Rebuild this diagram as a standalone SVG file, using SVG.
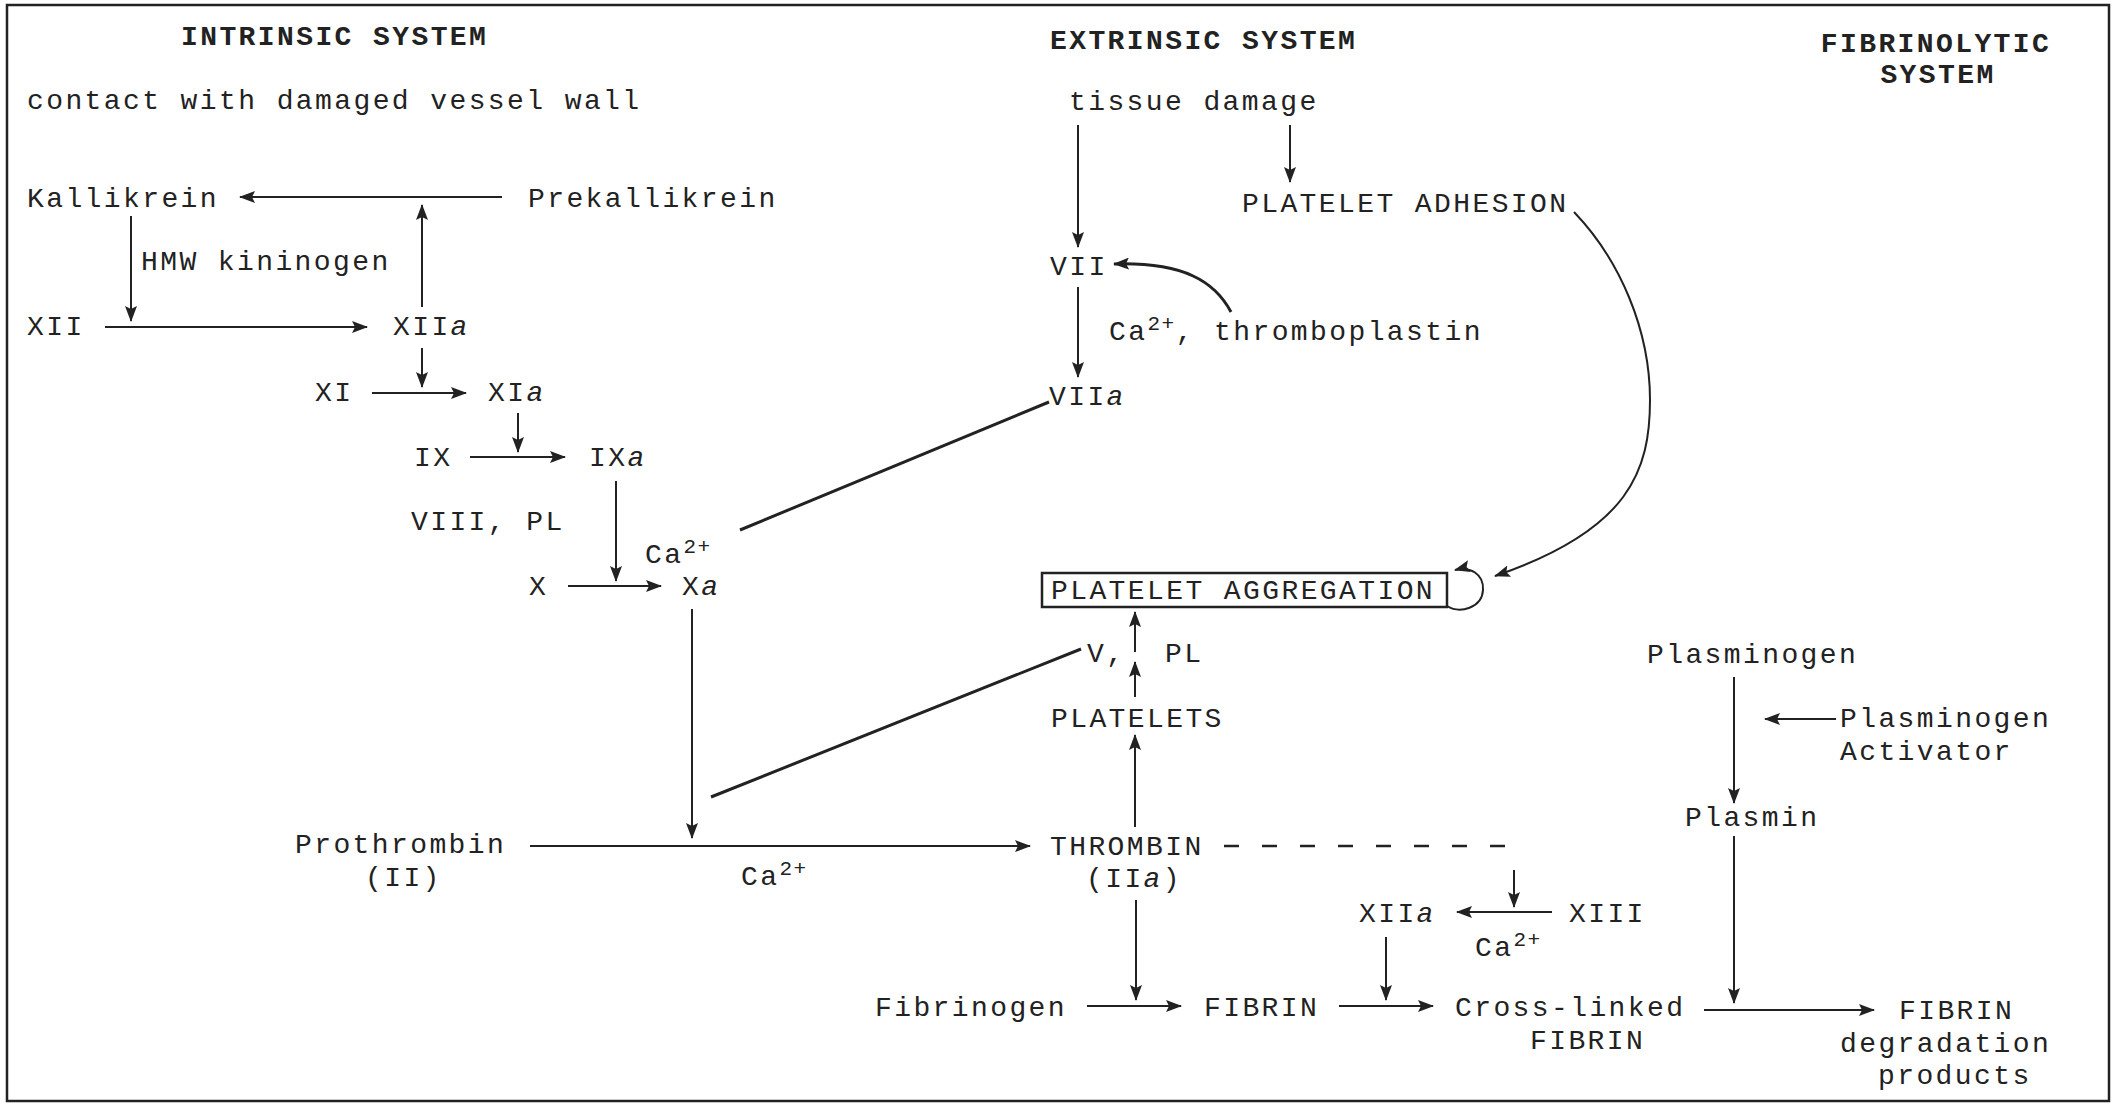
<svg xmlns="http://www.w3.org/2000/svg" width="2116" height="1105" viewBox="0 0 2116 1105">
<style>
text{font-family:"Liberation Mono","Courier New",monospace;font-size:28px;letter-spacing:2.4px;fill:#222}
.h{font-weight:bold}
.i{font-style:italic}
.sup{font-size:21px;letter-spacing:1.5px}
.c{fill:none;stroke:#222;stroke-width:2}
.cb{fill:none;stroke:#222;stroke-width:3}
.d{fill:none;stroke:#222;stroke-width:2.5;stroke-dasharray:15 23}
</style>
<defs>
<marker id="ah" markerUnits="userSpaceOnUse" markerWidth="16" markerHeight="12" refX="15" refY="6" orient="auto">
<path d="M0,0 L16,6 L0,12 L3,6 z" fill="#222"/>
</marker>
</defs>
<rect x="7" y="5" width="2102" height="1096" fill="#fff" stroke="#222" stroke-width="2.5"/>

<g id="headings">
<text class="h" x="181" y="45">INTRINSIC SYSTEM</text>
<text class="h" x="1050" y="49">EXTRINSIC SYSTEM</text>
<text class="h" x="1936" y="52" text-anchor="middle">FIBRINOLYTIC</text>
<text class="h" x="1938" y="83" text-anchor="middle">SYSTEM</text>
</g>

<g id="contact"><text x="27" y="109">contact with damaged vessel wall</text></g>
<g id="kallikrein"><text x="27" y="207">Kallikrein</text></g>
<g id="prekallikrein"><text x="528" y="207">Prekallikrein</text></g>
<g id="hmw"><text x="141" y="270">HMW kininogen</text></g>
<g id="xii"><text x="27" y="335">XII</text></g>
<g id="xiia"><text x="393" y="335">XII<tspan class="i">a</tspan></text></g>
<g id="xi"><text x="315" y="401">XI</text></g>
<g id="xia"><text x="488" y="401">XI<tspan class="i">a</tspan></text></g>
<g id="ix"><text x="414" y="466">IX</text></g>
<g id="ixa"><text x="589" y="466">IX<tspan class="i">a</tspan></text></g>
<g id="viii"><text x="411" y="530">VIII, PL</text></g>
<g id="ca1"><text x="645" y="563">Ca<tspan class="sup" dy="-10">2+</tspan></text></g>
<g id="x"><text x="529" y="595">X</text></g>
<g id="xa"><text x="682" y="595">X<tspan class="i">a</tspan></text></g>
<g id="prothrombin"><text x="295" y="853">Prothrombin</text><text x="365" y="886">(II)</text></g>
<g id="ca2"><text x="741" y="885">Ca<tspan class="sup" dy="-10">2+</tspan></text></g>

<g id="tissue"><text x="1069" y="110">tissue damage</text></g>
<g id="adhesion"><text x="1242" y="212">PLATELET ADHESION</text></g>
<g id="vii"><text x="1050" y="275">VII</text></g>
<g id="thromboplastin"><text x="1109" y="340">Ca<tspan class="sup" dy="-10">2+</tspan><tspan dy="10">, thromboplastin</tspan></text></g>
<g id="viia"><text x="1049" y="405">VII<tspan class="i">a</tspan></text></g>
<g id="aggregation"><rect x="1042" y="573" width="405" height="34" fill="none" stroke="#222" stroke-width="2.5"/><text x="1051" y="599">PLATELET AGGREGATION</text></g>
<g id="vpl"><text x="1087" y="662">V,</text><text x="1165" y="662">PL</text></g>
<g id="platelets"><text x="1051" y="727">PLATELETS</text></g>
<g id="thrombin"><text x="1050" y="855">THROMBIN</text><text x="1086" y="887">(II<tspan class="i">a</tspan>)</text></g>
<g id="xiia2"><text x="1359" y="922">XII<tspan class="i">a</tspan></text></g>
<g id="xiii"><text x="1569" y="922">XIII</text></g>
<g id="ca3"><text x="1475" y="956">Ca<tspan class="sup" dy="-10">2+</tspan></text></g>
<g id="fibrinogen"><text x="875" y="1016">Fibrinogen</text></g>
<g id="fibrin"><text x="1204" y="1016">FIBRIN</text></g>
<g id="crosslinked"><text x="1455" y="1016">Cross-linked</text><text x="1530" y="1049">FIBRIN</text></g>

<g id="plasminogen"><text x="1647" y="663">Plasminogen</text></g>
<g id="activator"><text x="1840" y="727">Plasminogen</text><text x="1840" y="760">Activator</text></g>
<g id="plasmin"><text x="1685" y="826">Plasmin</text></g>
<g id="fdp"><text x="1899" y="1019">FIBRIN</text><text x="1840" y="1052">degradation</text><text x="1878" y="1084">products</text></g>

<g id="connectors">
<line class="c" x1="502" y1="197" x2="240" y2="197" marker-end="url(#ah)"/>
<line class="c" x1="131" y1="216" x2="131" y2="321" marker-end="url(#ah)"/>
<line class="c" x1="105" y1="327" x2="367" y2="327" marker-end="url(#ah)"/>
<line class="c" x1="422" y1="307" x2="422" y2="205" marker-end="url(#ah)"/>
<line class="c" x1="422" y1="348" x2="422" y2="387" marker-end="url(#ah)"/>
<line class="c" x1="372" y1="393" x2="466" y2="393" marker-end="url(#ah)"/>
<line class="c" x1="518" y1="413" x2="518" y2="452" marker-end="url(#ah)"/>
<line class="c" x1="470" y1="457" x2="565" y2="457" marker-end="url(#ah)"/>
<line class="c" x1="616" y1="481" x2="616" y2="581" marker-end="url(#ah)"/>
<line class="c" x1="568" y1="586" x2="661" y2="586" marker-end="url(#ah)"/>
<line class="cb" x1="740" y1="530" x2="1049" y2="402"/>
<line class="c" x1="692" y1="609" x2="692" y2="838" marker-end="url(#ah)"/>
<line class="cb" x1="711" y1="797" x2="1081" y2="649"/>
<line class="c" x1="530" y1="846" x2="1030" y2="846" marker-end="url(#ah)"/>
<line class="c" x1="1078" y1="125" x2="1078" y2="247" marker-end="url(#ah)"/>
<line class="c" x1="1290" y1="125" x2="1290" y2="182" marker-end="url(#ah)"/>
<line class="c" x1="1078" y1="287" x2="1078" y2="377" marker-end="url(#ah)"/>
<path class="cb" d="M1231,312 C1215,282 1185,262 1114,264" marker-end="url(#ah)"/>
<path class="c" d="M1574,212 C1620,260 1650,330 1650,400 C1650,470 1630,530 1495,576" marker-end="url(#ah)"/>
<path class="c" d="M1447,606 C1460,614 1482,608 1483,590 C1484,574 1470,566 1455,570" marker-end="url(#ah)"/>
<line class="c" x1="1135" y1="652" x2="1135" y2="612" marker-end="url(#ah)"/>
<line class="c" x1="1135" y1="697" x2="1135" y2="662" marker-end="url(#ah)"/>
<line class="c" x1="1135" y1="827" x2="1135" y2="735" marker-end="url(#ah)"/>
<line class="d" x1="1224" y1="846" x2="1510" y2="846"/>
<line class="c" x1="1514" y1="870" x2="1514" y2="907" marker-end="url(#ah)"/>
<line class="c" x1="1552" y1="912" x2="1457" y2="912" marker-end="url(#ah)"/>
<line class="c" x1="1136" y1="900" x2="1136" y2="1000" marker-end="url(#ah)"/>
<line class="c" x1="1087" y1="1006" x2="1181" y2="1006" marker-end="url(#ah)"/>
<line class="c" x1="1386" y1="937" x2="1386" y2="1000" marker-end="url(#ah)"/>
<line class="c" x1="1339" y1="1006" x2="1433" y2="1006" marker-end="url(#ah)"/>
<line class="c" x1="1734" y1="677" x2="1734" y2="803" marker-end="url(#ah)"/>
<line class="c" x1="1836" y1="719" x2="1765" y2="719" marker-end="url(#ah)"/>
<line class="c" x1="1734" y1="836" x2="1734" y2="1003" marker-end="url(#ah)"/>
<line class="c" x1="1704" y1="1010" x2="1874" y2="1010" marker-end="url(#ah)"/>
</g>
</svg>
